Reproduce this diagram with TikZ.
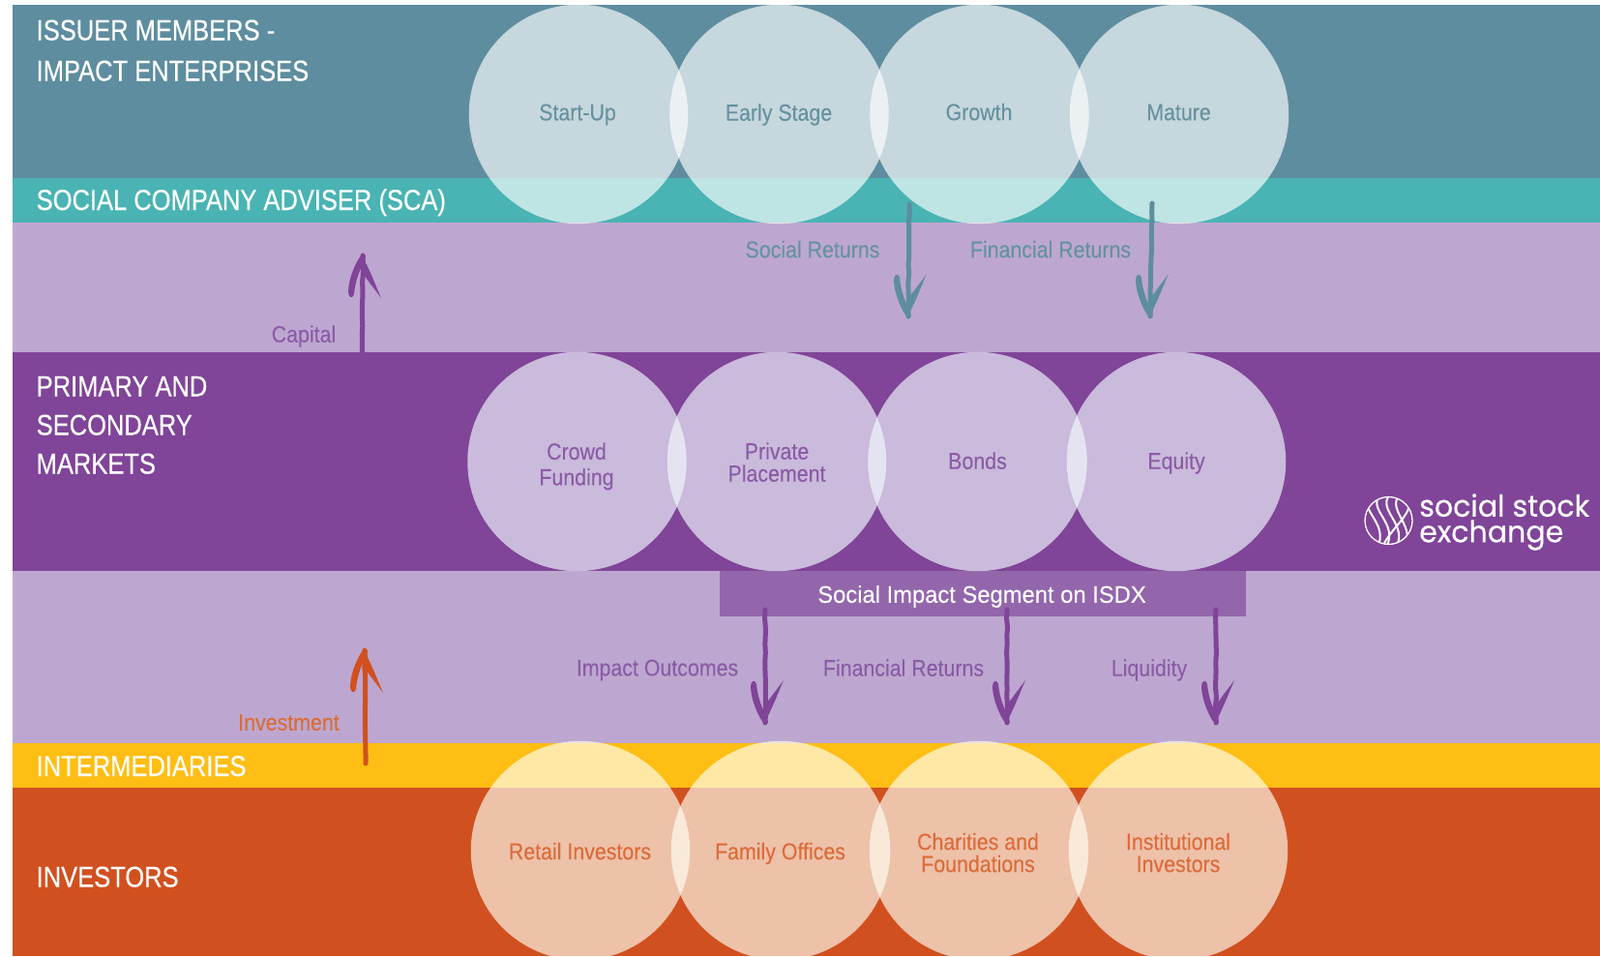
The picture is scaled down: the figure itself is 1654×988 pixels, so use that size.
\documentclass[tikz,border=0pt]{standalone}
\usepackage{fontspec}
\usetikzlibrary{decorations.pathmorphing}
\setmainfont{Liberation Sans}
\newfontfamily\headfont[FakeStretch=0.85,FakeBold=0.35]{Liberation Sans}
\newfontfamily\smallfont[FakeStretch=0.89,FakeBold=0.12]{Liberation Sans}
\newfontfamily\segfont[FakeStretch=0.97,FakeBold=0.12]{Liberation Sans}
\newfontfamily\logofont[FakeStretch=0.97,FakeBold=0.3]{Poppins}
\definecolor{cIssuer}{HTML}{5E8D9F}
\definecolor{cSca}{HTML}{4AB3B3}
\definecolor{cLilac}{HTML}{BDA7D0}
\definecolor{cPurple}{HTML}{804498}
\definecolor{cYellow}{HTML}{FFBE14}
\definecolor{cOrange}{HTML}{D1501F}
\definecolor{cSegment}{HTML}{9366AB}
\definecolor{tTeal}{HTML}{66929F}
\definecolor{tPurple}{HTML}{8B5CA6}
\definecolor{tOrange}{HTML}{DB6C3A}
\definecolor{fMid}{HTML}{F3FAFF}
\definecolor{fLow}{HTML}{FFFFF3}
\newcommand\ph{\vphantom{Ag}}
\tikzset{
  x=1pt,y=-1pt,
  bubble/.style={circle,fill=white,fill opacity=.65,minimum size=226.5pt,inner sep=0pt},
  bubtext/.style={inner sep=0pt,align=center,font=\smallfont\fontsize{24}{25}\selectfont},
  heading/.style={anchor=base west,inner sep=0pt,text=white,font=\headfont\fontsize{30}{32}\selectfont},
  flowlabel/.style={inner sep=0pt,font=\smallfont\fontsize{24}{25}\selectfont},
  shaft/.style={line width=5pt,line cap=round,decorate,decoration={random steps,segment length=9pt,amplitude=.55pt}},
  barbs/.pic={
    \fill[pic actions] (-1,-1) .. controls (-7,6) and (-15,24) .. (-15,38)
      .. controls (-15,44) and (-10,45) .. (-9,40)
      .. controls (-8,28) and (-4,16) .. (1,8) -- (3,0) -- cycle;
    \fill[pic actions] (0,2) .. controls (6,12) and (13,30) .. (19,44)
      .. controls (14,37) and (5,26) .. (0,18) -- cycle;
  },
  logotext/.style={anchor=west,inner sep=0pt,align=left,text=white,font=\logofont\fontsize{31}{26.5}\selectfont},
  logoline/.style={draw=white,line width=2pt}
}
\begin{document}
\begin{tikzpicture}
\useasboundingbox (0,0) rectangle (1654,988);
\clip (0,0) rectangle (1654,988);
\fill[white] (0,0) rectangle (1654,988);
% bands
\fill[cIssuer] (13,5) rectangle (1654,184);
\fill[cSca] (13,184) rectangle (1654,230);
\fill[cLilac] (13,230) rectangle (1654,364);
\fill[cPurple] (13,364) rectangle (1654,590);
\fill[cLilac] (13,590) rectangle (1654,768);
\fill[cYellow] (13,768) rectangle (1654,814);
\fill[cOrange] (13,814) rectangle (1654,988);
% segment bar
\node[fill=cSegment,minimum width=544pt,minimum height=47pt,inner sep=0pt] (segment) at (1016,613.5) {};
\node[inner sep=0pt,text=white,font=\segfont\fontsize{24.5}{26}\selectfont] (segmenttext) at (1015,616.5) {\ph Social Impact Segment on ISDX};
% bubbles
\node[bubble] (startup) at (598,118) {};
\node[bubble] (early) at (805.5,118) {};
\node[bubble] (growth) at (1012.5,118) {};
\node[bubble] (mature) at (1219,118) {};
\node[bubble,fill=fMid] (crowd) at (596.5,477) {};
\node[bubble,fill=fMid] (private) at (803,477) {};
\node[bubble,fill=fMid] (bonds) at (1010.5,477) {};
\node[bubble,fill=fMid] (equity) at (1216,477) {};
\node[bubble,fill=fLow] (retail) at (600,879) {};
\node[bubble,fill=fLow] (family) at (807,879) {};
\node[bubble,fill=fLow] (charities) at (1012,879) {};
\node[bubble,fill=fLow] (institutional) at (1218,879) {};
% bubble texts
\node[bubtext,text=tTeal] (tStartup) at (597,118.5) {\ph Start-Up};
\node[bubtext,text=tTeal] (tEarly) at (805,118.5) {\ph Early Stage};
\node[bubtext,text=tTeal] (tGrowth) at (1012,118) {\ph Growth};
\node[bubtext,text=tTeal] (tMature) at (1218.5,118.5) {\ph Mature};
\node[bubtext,text=tPurple] (tCrowd) at (596,482) {\ph Crowd\\[1.5pt]\ph Funding};
\node[bubtext,text=tPurple] (tPrivate) at (803,480) {\ph Private\\[-2pt]\ph Placement};
\node[bubtext,text=tPurple] (tBonds) at (1010.5,478.5) {\ph Bonds};
\node[bubtext,text=tPurple] (tEquity) at (1216,478.5) {\ph Equity};
\node[bubtext,text=tOrange] (tRetail) at (599.5,882) {\ph Retail Investors};
\node[bubtext,text=tOrange] (tFamily) at (806.5,882) {\ph Family Offices};
\node[bubtext,text=tOrange] (tCharities) at (1011,883.5) {\ph Charities and\\[-2pt]\ph Foundations};
\node[bubtext,text=tOrange] (tInstitutional) at (1218,883.5) {\ph Institutional\\[-2pt]\ph Investors};
% headings
\node[heading] (issuerA) at (37.5,41.5) {ISSUER MEMBERS -};
\node[heading] (issuerB) at (37.5,83.5) {IMPACT ENTERPRISES};
\node[heading] (sca) at (37.5,217) {SOCIAL COMPANY ADVISER (SCA)};
\node[heading] (marketsA) at (37.5,409.5) {PRIMARY AND};
\node[heading] (marketsB) at (37.5,449.5) {SECONDARY};
\node[heading] (marketsC) at (37.5,489.5) {MARKETS};
\node[heading] (intermediaries) at (37.5,802) {INTERMEDIARIES};
\node[heading] (investors) at (37.5,916.5) {INVESTORS};
% flow labels
\node[flowlabel,text=tTeal] (lblSocial) at (840,260) {\ph Social Returns};
\node[flowlabel,text=tTeal] (lblFinTop) at (1086,260) {\ph Financial Returns};
\node[flowlabel,text=tPurple] (lblCapital) at (314,347.5) {\ph Capital};
\node[flowlabel,text=tPurple] (lblImpact) at (679.5,692.5) {\ph Impact Outcomes};
\node[flowlabel,text=tPurple] (lblFinBot) at (934,692.5) {\ph Financial Returns};
\node[flowlabel,text=tPurple] (lblLiquidity) at (1188,692.5) {\ph Liquidity};
\node[flowlabel,text=tOrange] (lblInvest) at (298.5,749) {\ph Investment};
% arrow ends
\coordinate (capA) at (374.5,364);   \coordinate (capB) at (375,264);
\coordinate (invA) at (378,789);     \coordinate (invB) at (377,672);
\coordinate (socA) at (940,211);     \coordinate (socB) at (939,327);
\coordinate (finA) at (1191,210);    \coordinate (finB) at (1189,327);
\coordinate (impA) at (791,630);     \coordinate (impB) at (791,747);
\coordinate (fbA) at (1041,630);     \coordinate (fbB) at (1041,747);
\coordinate (liqA) at (1257,630);    \coordinate (liqB) at (1257,747);
% arrows
\draw[shaft,cPurple] (capA) -- (capB);
\pic[fill=cPurple] at (capB) {barbs};
\draw[shaft,cOrange] (invA) -- (invB);
\pic[fill=cOrange] at (invB) {barbs};
\draw[shaft,cIssuer] (socA) -- (socB);
\pic[fill=cIssuer,yscale=-1] at (socB) {barbs};
\draw[shaft,cIssuer] (finA) -- (finB);
\pic[fill=cIssuer,yscale=-1] at (finB) {barbs};
\draw[shaft,cPurple] (impA) -- (impB);
\pic[fill=cPurple,yscale=-1] at (impB) {barbs};
\draw[shaft,cPurple] (fbA) -- (fbB);
\pic[fill=cPurple,yscale=-1] at (fbB) {barbs};
\draw[shaft,cPurple] (liqA) -- (liqB);
\pic[fill=cPurple,yscale=-1] at (liqB) {barbs};
% logo
\draw[white,line width=1.3pt] (1435.5,538) circle[radius=24.5];
\begin{scope}
\clip (1435.5,538) circle[radius=24];
\draw[logoline] (1416,512) .. controls (1404,528) and (1436,540) .. (1424,566);
\draw[logoline] (1426,512) .. controls (1414,528) and (1446,540) .. (1433,566);
\draw[logoline] (1436,512) .. controls (1424,528) and (1456,542) .. (1443,566);
\draw[logoline] (1446,512) .. controls (1434,528) and (1464,544) .. (1452,566);
\draw[logoline] (1454,514) .. controls (1466,528) and (1436,546) .. (1429,566);
\end{scope}
\node[logotext] (logoA) at (1467,539.5) {social stock\\exchange};
\end{tikzpicture}
\end{document}
